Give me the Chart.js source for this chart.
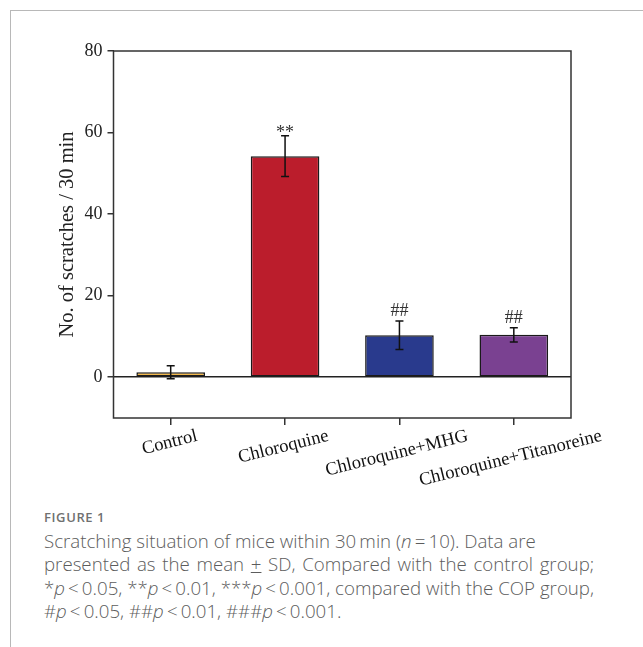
<!DOCTYPE html>
<html>
<head>
<meta charset="utf-8">
<script src="https://cdn.jsdelivr.net/npm/chart.js@4.4.1/dist/chart.umd.min.js"></script>
<style>
  html, body { margin: 0; padding: 0; background: #fff; }
  body { width: 643px; height: 647px; position: relative; overflow: hidden; }
  #frame { position: absolute; left: 10px; top: 10px; right: 0; bottom: 0;
           border-top: 1.5px solid #b8b8b8; border-left: 1.5px solid #b8b8b8; }
  #chart { position: absolute; left: 0; top: 0; }
  #caption { position: absolute; left: 44px; top: 508px; font-family: "Open Sans", sans-serif; color: #5c5c5c; }
  #caption .fig { font-size: 13px; font-weight: 600; color: #707070; letter-spacing: 0.6px; }
  #caption .txt { font-size: 18.7px; font-weight: 300; line-height: 23.3px; margin-top: 3px; white-space: nowrap; }
  #caption .wide { word-spacing: 1.8px; }
</style>
</head>
<body>
<div id="frame"></div>
<canvas id="chart" width="643" height="500"></canvas>
<div id="caption">
  <div class="fig">FIGURE 1</div>
  <div class="txt">Scratching situation of mice within 30&#8201;min (<i>n</i>&#8201;=&#8201;10). Data are<br><span class="wide">presented as the mean <u>+</u> SD, Compared with the control group;</span><br>*<i>p</i>&#8201;&lt;&#8201;0.05, **<i>p</i>&#8201;&lt;&#8201;0.01, ***<i>p</i>&#8201;&lt;&#8201;0.001, compared with the COP group,<br>#<i>p</i>&#8201;&lt;&#8201;0.05, ##<i>p</i>&#8201;&lt;&#8201;0.01, ###<i>p</i>&#8201;&lt;&#8201;0.001.</div>
</div>
<script>
// datos
const categories = ['Control', 'Chloroquine', 'Chloroquine+MHG', 'Chloroquine+Titanoreine'];
const meanValues = [1.2, 54.2, 10.3, 10.4];
const sdValues = [1.6, 5.0, 3.5, 1.75];
const sigMarks = ['', '**', '##', '##'];
const barColors = ['#F2B84B', '#BB1D2C', '#293A8D', '#7A4191'];
const yTicks = [0, 20, 40, 60, 80];

const serif = '"Liberation Serif", "Times New Roman", serif';

// barras de error, marcas y etiquetas del eje x
const extras = {
    id: 'extras',
    afterDatasetsDraw(chart) {
        const ctx = chart.ctx;
        const area = chart.chartArea;
        const yScale = chart.scales.y;
        const xScale = chart.scales.x;
        const bars = chart.getDatasetMeta(0).data;
        ctx.save();

        // marco
        ctx.strokeStyle = '#333';
        ctx.lineWidth = 1.5;
        ctx.strokeRect(area.left, area.top, area.right - area.left, area.bottom - area.top);

        ctx.strokeStyle = '#111';
        ctx.lineWidth = 1.5;
        bars.forEach((bar, i) => {
            const top = yScale.getPixelForValue(meanValues[i] + sdValues[i]);
            const bot = yScale.getPixelForValue(meanValues[i] - sdValues[i]);
            ctx.beginPath();
            ctx.moveTo(bar.x, top); ctx.lineTo(bar.x, bot);
            ctx.moveTo(bar.x - 4, top); ctx.lineTo(bar.x + 4, top);
            ctx.moveTo(bar.x - 4, bot); ctx.lineTo(bar.x + 4, bot);
            ctx.stroke();

            if (sigMarks[i]) {
                ctx.fillStyle = '#333';
                ctx.font = '18px ' + serif;
                ctx.textAlign = 'center';
                ctx.textBaseline = 'alphabetic';
                const base = sigMarks[i].includes('*') ? top + 2.5 : top - 4.5;
                ctx.fillText(sigMarks[i], bar.x, base);
            }
        });

        // etiquetas inclinadas
        const ang = 14 * Math.PI / 180;
        ctx.fillStyle = '#111';
        ctx.font = '18.5px ' + serif;
        ctx.textAlign = 'center';
        ctx.textBaseline = 'middle';
        categories.forEach((label, i) => {
            const w = ctx.measureText(label).width;
            const cx = xScale.getPixelForValue(i) - w * 0.018;
            const cy = area.bottom + 9.5 + (w / 2) * Math.sin(ang) + 8.5 * Math.cos(ang);
            ctx.save();
            ctx.translate(cx, cy);
            ctx.rotate(-ang);
            ctx.fillText(label, 0, 0);
            ctx.restore();
        });
        ctx.restore();
    }
};

const chart = new Chart(document.getElementById('chart').getContext('2d'), {
    type: 'bar',
    data: {
        labels: categories,
        datasets: [{
            data: meanValues,
            backgroundColor: barColors,
            borderColor: '#1a1a1a',
            borderWidth: 1.5,
            borderSkipped: false,
            barPercentage: 0.6,
            categoryPercentage: 1
        }]
    },
    options: {
        responsive: false,
        animation: false,
        layout: { padding: { top: 51, right: 72, left: 0, bottom: 0 } },
        plugins: {
            legend: { display: false },
            tooltip: { enabled: false }
        },
        scales: {
            x: {
                offset: true,
                grid: {
                    offset: false,
                    drawOnChartArea: false,
                    drawTicks: true,
                    tickLength: 7,
                    color: '#333',
                    lineWidth: 1.5
                },
                border: { display: false },
                ticks: { display: false },
                afterFit: s => { s.height = 82; }
            },
            y: {
                min: -10,
                max: 80,
                afterBuildTicks: s => { s.ticks = yTicks.map(v => ({ value: v })); },
                grid: {
                    color: c => (c.tick && c.tick.value === 0) ? '#222' : 'rgba(0,0,0,0)',
                    lineWidth: 1.5,
                    tickColor: '#333',
                    tickLength: 6,
                    drawTicks: true
                },
                border: { display: false },
                ticks: {
                    font: { family: serif, size: 18 },
                    color: '#222',
                    padding: 5
                },
                title: {
                    display: true,
                    text: 'No. of scratches / 30 min',
                    font: { family: serif, size: 20.5 },
                    color: '#222',
                    padding: { top: 55, bottom: 0 }
                },
                afterFit: s => { s.width = 113.5; }
            }
        }
    },
    plugins: [extras]
});
</script>
</body>
</html>
